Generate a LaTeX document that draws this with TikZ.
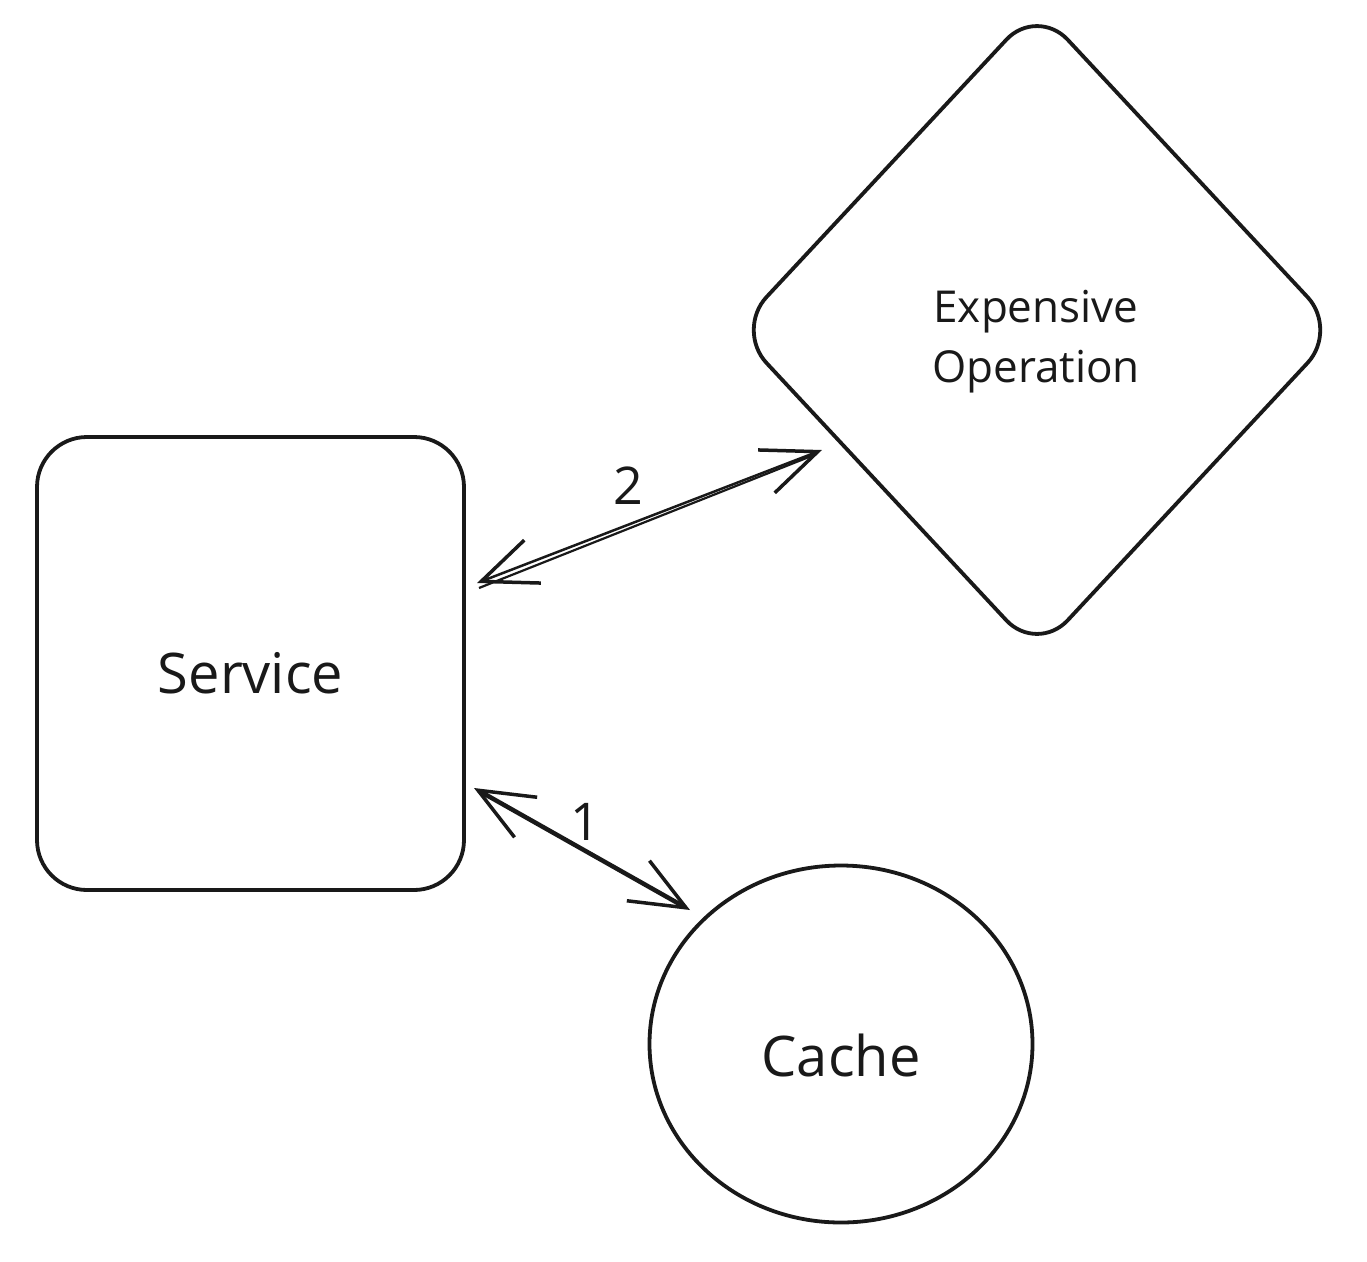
\documentclass[tikz,border=0pt]{standalone}
\usepackage{fontspec}
\setmainfont{Open Sans}
\usetikzlibrary{shapes.geometric,arrows.meta}
\tikzset{
  shape line/.style={draw=black!90, line width=3.8pt},
  conn/.style={line width=4.5pt, black!90, line cap=round,
    arrows={Straight Barb[length=55pt,width=46pt,line width=3.5pt]-Straight Barb[length=55pt,width=46pt,line width=3.5pt]}},
  lbl/.style={font=\fontsize{52}{60}\selectfont, text=black!90},
}
\begin{document}
\begin{tikzpicture}[x=1pt,y=-1pt]
\useasboundingbox[fill=white] (0,0) rectangle (1367,1261);
\node[shape line, rectangle, rounded corners=50pt, minimum width=427pt, minimum height=453pt, inner sep=0pt] (srv) at (250.5,663.5) {};
\node[font=\fontsize{56}{64}\selectfont, text=black!90] (srvt) at (250.5,673) {Service};
\node[shape line, diamond, rounded corners=45pt, minimum width=604pt, minimum height=648pt, inner sep=0pt] (exp) at (1037,330) {};
\node[align=center, font=\fontsize{44}{60}\selectfont, text=black!90] (expt) at (1036,342) {Expensive\\Operation};
\node[shape line, ellipse, minimum width=383pt, minimum height=357pt, inner sep=0pt] (cache) at (841,1044) {};
\node[font=\fontsize{56}{64}\selectfont, text=black!90] (cachet) at (841,1055) {Cache};
\coordinate (a2s) at (477,583);
\coordinate (a2e) at (822,450);
\coordinate (a1s) at (474,788);
\coordinate (a1e) at (690,910);
\draw[conn, line width=2.5pt] (a2s) -- (a2e);
\draw[line width=2.2pt, black!90] ([shift={(2,5)}]a2s) -- ([shift={(-8,5)}]a2e);
\draw[conn] (a1s) -- (a1e);
\node[lbl] (l2) at (628,486) {2};
\node[lbl] (l1) at (585,822) {1};
\end{tikzpicture}
\end{document}
